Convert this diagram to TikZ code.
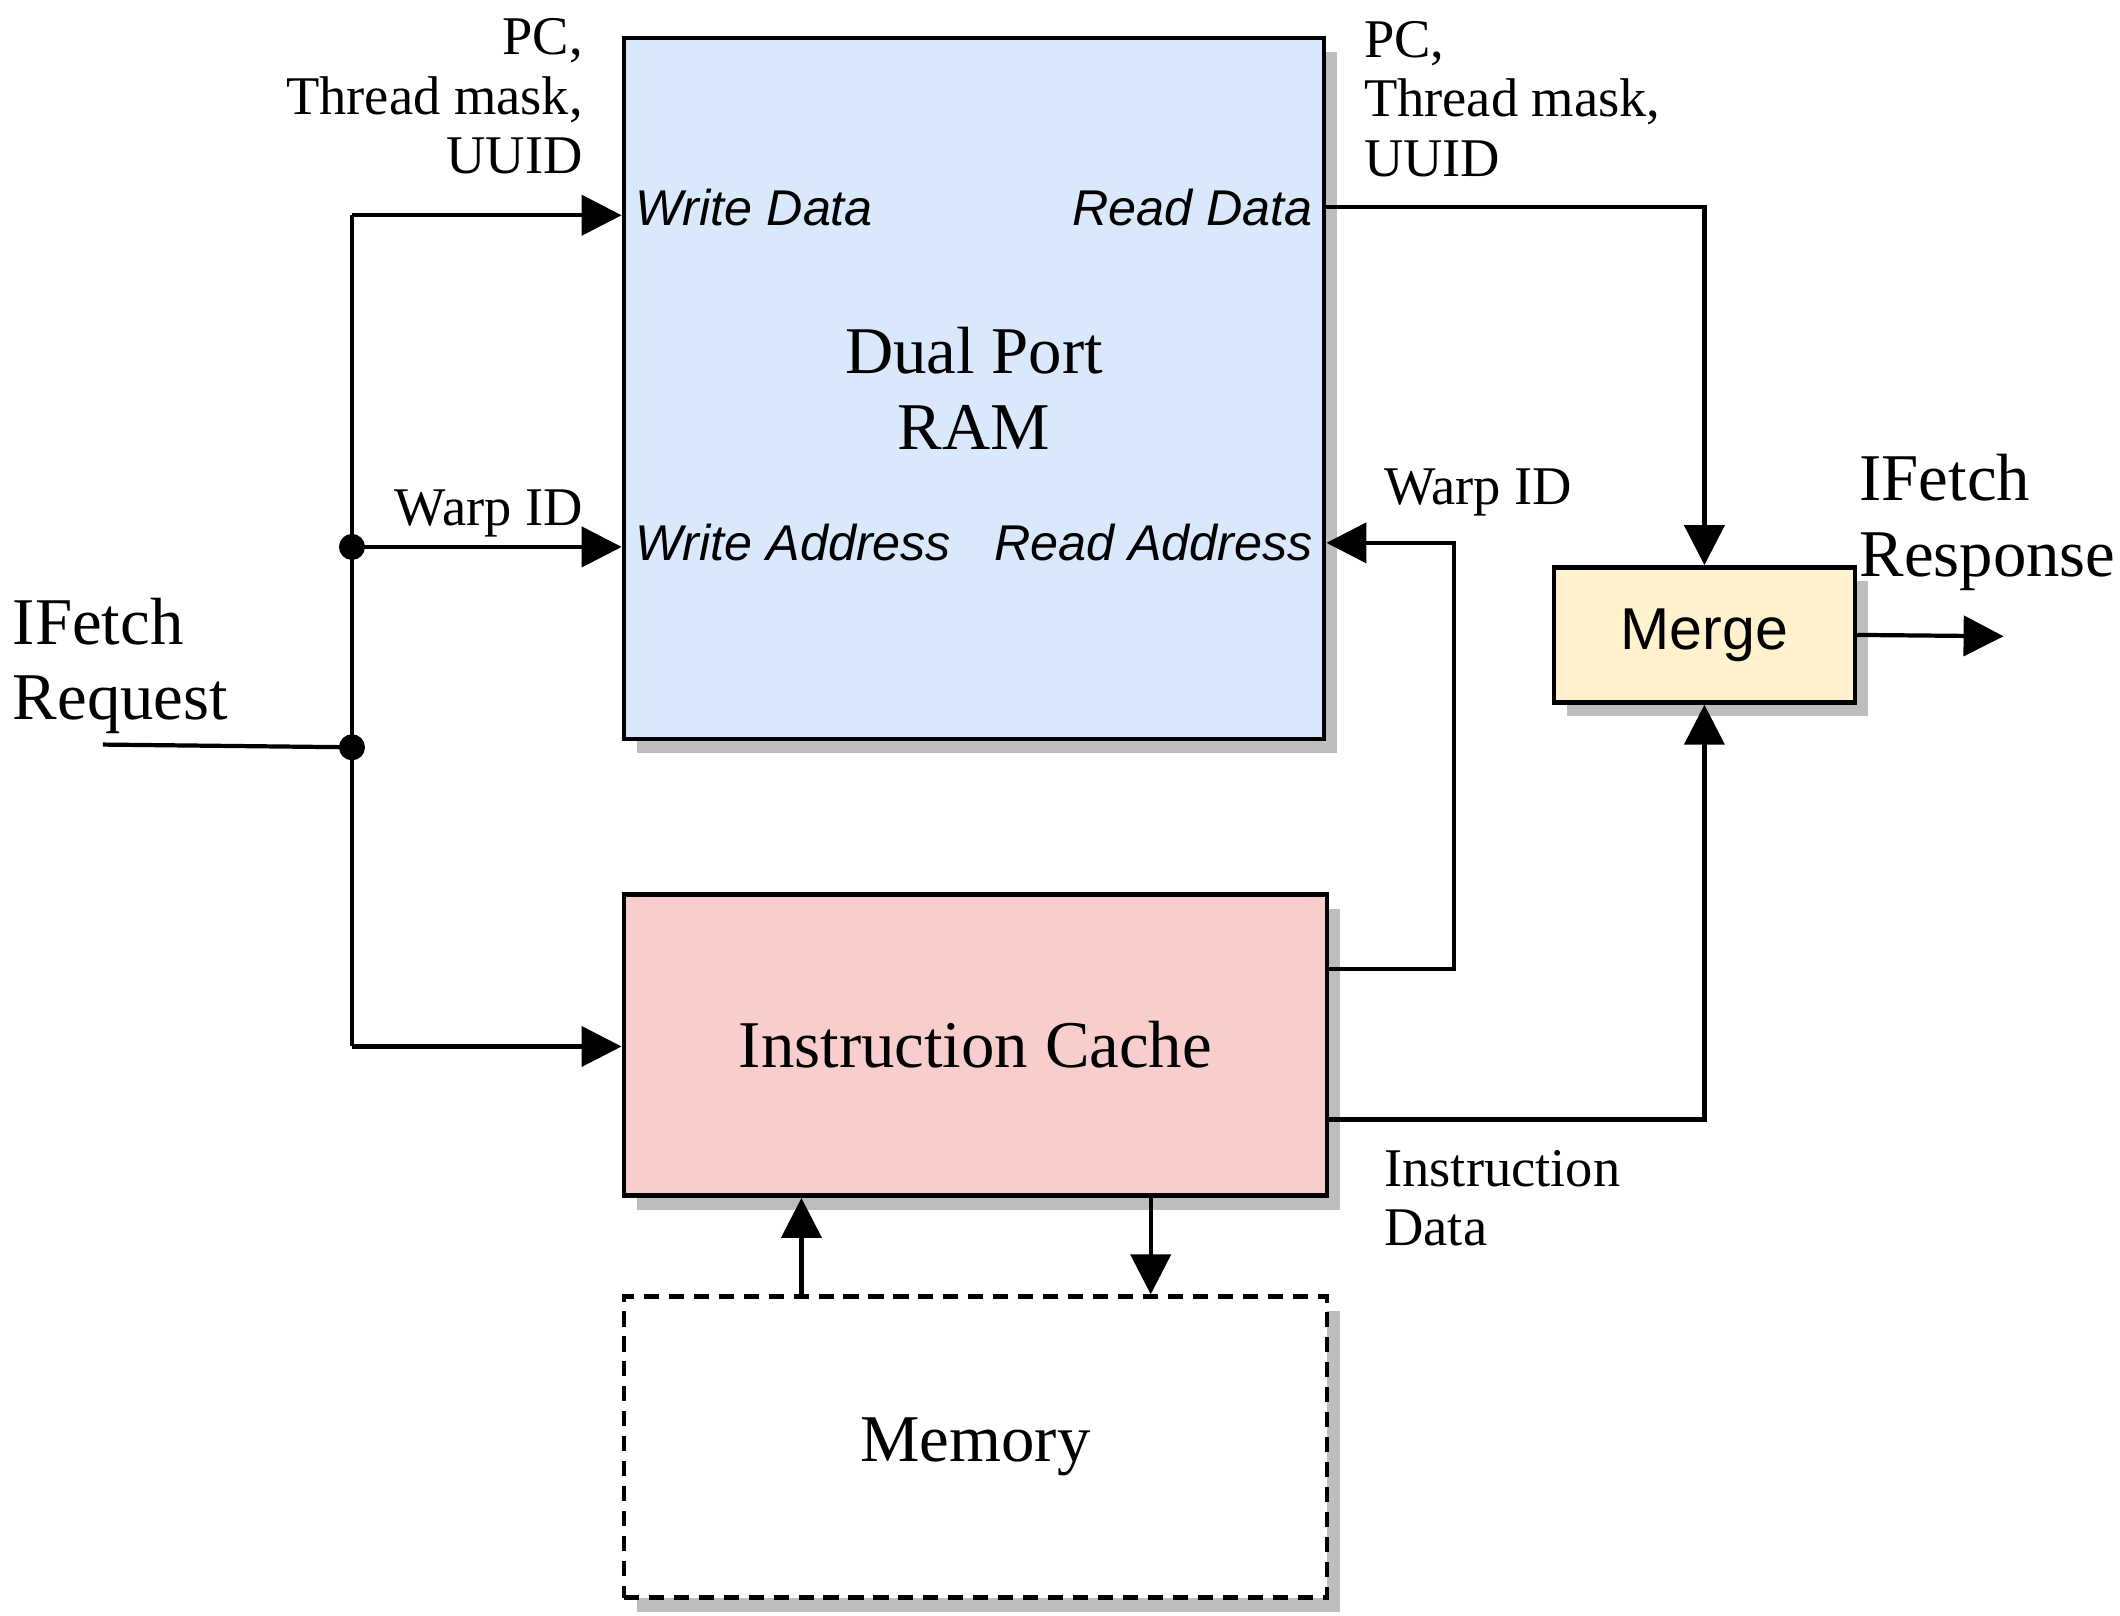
\documentclass[tikz,border=0pt]{standalone}
\usepackage{fontspec}
\setmainfont{Liberation Serif}
\setsansfont{Liberation Sans}
\usepackage{tikz}
\usetikzlibrary{arrows.meta,shadows}
\definecolor{ramblue}{HTML}{DAE8FC}
\definecolor{cachered}{HTML}{F8CECC}
\definecolor{mergeyel}{HTML}{FFF2CC}
\definecolor{shade}{HTML}{BDBDBD}

\begin{document}
\begin{tikzpicture}[x=0.013538cm,y=-0.013538cm,line width=1.2pt,>={Triangle[length=0.4cm,width=0.4cm]},
    block/.style={draw,line width=1.3pt,drop shadow={shadow xshift=0.13cm,shadow yshift=-0.14cm,fill=shade,opacity=1}},
    port/.style={font=\sffamily\itshape\fontsize{14.3}{16}\selectfont},
    lbl/.style={font=\fontsize{15.5}{17}\selectfont,inner sep=0pt},
    big/.style={font=\fontsize{19}{21.5}\selectfont},
    junc/.style={circle,fill,inner sep=0pt,minimum size=0.26cm}]
  \useasboundingbox (0,0) rectangle (1566,1193);

  \node[block,fill=ramblue,minimum width=7cm,minimum height=7.01cm,big,align=center] (ram) at (719.5,287) {Dual Port\\RAM};
  \node[block,fill=cachered,minimum width=7.03cm,minimum height=3.01cm,big] (cache) at (720.5,772) {Instruction Cache};
  \node[block,fill=white,dash pattern=on 4.3pt off 2.8pt,minimum width=7.03cm,minimum height=3.01cm,big] (mem) at (720.5,1069) {Memory};
  \node[block,fill=mergeyel,minimum width=3.01cm,minimum height=1.35cm,font=\sffamily\fontsize{16.8}{19}\selectfont] (merge) at (1259,469) {Merge};

  \node[port,anchor=west] (wdata) at (ram.west |- 0,153) {Write Data};
  \node[port,anchor=east] (rdata) at (ram.east |- 0,153) {Read Data};
  \node[port,anchor=west] (waddr) at (ram.west |- 0,401) {Write Address};
  \node[port,anchor=east] (raddr) at (ram.east |- 0,401) {Read Address};

  \node[lbl,anchor=north east,align=right] (wlbl) at (432,12) {PC,\\Thread mask,\\UUID};
  \node[lbl,anchor=north west,align=left] (rlbl) at (1006,14) {PC,\\Thread mask,\\UUID};
  \node[lbl,anchor=base east] (wwarp) at (432,388) {Warp ID};
  \node[lbl,anchor=base west] (rwarp) at (1021,373) {Warp ID};
  \node[lbl,anchor=north west,align=left] (idata) at (1021,848) {Instruction\\Data};
  \node[big,anchor=north west,align=left,inner sep=0pt] (req) at (8,440) {IFetch\\Request};
  \node[big,anchor=north west,align=left,inner sep=0pt] (resp) at (1372,334) {IFetch\\Response};

  \coordinate (reqin) at (76,550);
  \coordinate (jin) at (260,552);
  \coordinate (jwarp) at (260,404);
  \coordinate (jtop) at (260,159);
  \coordinate (jbot) at (260,773);
  \coordinate (out) at (1480,470);

  \draw (reqin) -- (jin);
  \draw (jtop) -- (jbot);
  \draw[->] (jtop) -- (jtop -| ram.west);
  \draw[->] (jwarp) -- (jwarp -| ram.west);
  \draw[->] (jbot) -- (jbot -| cache.west);
  \node[junc] (djin) at (jin) {};
  \node[junc] (djwarp) at (jwarp) {};

  \draw[->] (ram.east |- rdata) -| (merge.north);
  \draw[->] (cache.east |- 0,716) -- (1074,716) |- (ram.east |- raddr);
  \draw[->] (cache.east |- 0,827) -| (merge.south);
  \draw[->] (merge.east) -- (out);
  \draw[->] (mem.north -| 592,0) -- (cache.south -| 592,0);
  \draw[->] (cache.south -| 850,0) -- (mem.north -| 850,0);
\end{tikzpicture}
\end{document}
